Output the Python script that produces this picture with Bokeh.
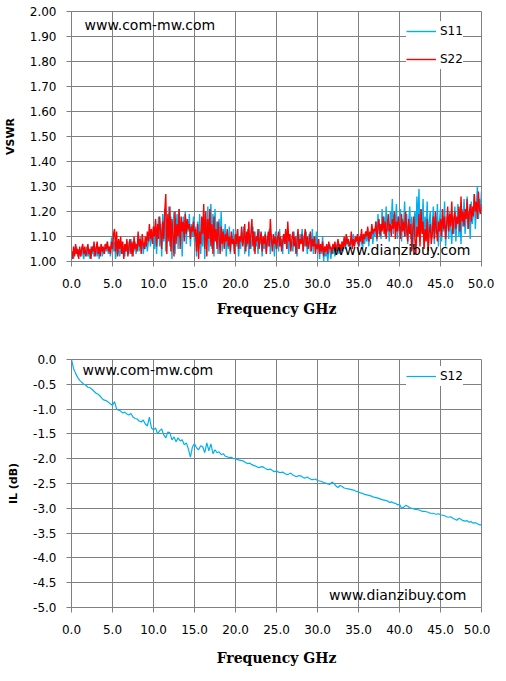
from bokeh.plotting import figure
from bokeh.models import Range1d, SingleIntervalTicker, NumeralTickFormatter, Legend, LegendItem, Label
from bokeh.layouts import column
from bokeh.embed import file_html
from bokeh.resources import INLINE

# ---------------- data ----------------
s11 = [
    1.02, 1.04, 1.01, 1.05, 1.03, 1.06, 1.02, 1.04,
    1.05, 1.02, 1.06, 1.03, 1.01, 1.05, 1.03, 1.06,
    1.02, 1.04, 1.01, 1.06, 1.03, 1.05, 1.02, 1.04,
    1.06, 1.02, 1.05, 1.01, 1.04, 1.07, 1.02, 1.05,
    1.03, 1.07, 1.04, 1.08, 1.03, 1.06, 1.02, 1.09,
    1.10, 1.04, 1.08, 1.01, 1.06, 1.03, 1.07, 1.02,
    1.05, 1.08, 1.03, 1.06, 1.02, 1.07, 1.04, 1.08,
    1.03, 1.06, 1.09, 1.02, 1.07, 1.04, 1.08, 1.03,
    1.06, 1.09, 1.04, 1.10, 1.05, 1.08, 1.03, 1.07,
    1.05, 1.10, 1.04, 1.08, 1.11, 1.06, 1.12, 1.08,
    1.14, 1.05, 1.16, 1.03, 1.12, 1.18, 1.06, 1.15,
    1.02, 1.19, 1.08, 1.21, 1.04, 1.17, 1.10, 1.22,
    1.06, 1.18, 1.01, 1.15, 1.20, 1.03, 1.13, 1.19,
    1.05, 1.21, 1.09, 1.16, 1.02, 1.18, 1.11, 1.20,
    1.07, 1.17, 1.12, 1.19, 1.06, 1.15, 1.10, 1.18,
    1.08, 1.14, 1.02, 1.16, 1.05, 1.19, 1.03, 1.12,
    1.06, 1.20, 1.01, 1.17, 1.09, 1.22, 1.04, 1.18,
    1.23, 1.05, 1.19, 1.02, 1.21, 1.08, 1.16, 1.03,
    1.17, 1.06, 1.20, 1.04, 1.13, 1.08, 1.15, 1.02,
    1.12, 1.05, 1.14, 1.03, 1.10, 1.07, 1.13, 1.04,
    1.11, 1.06, 1.13, 1.02, 1.09, 1.05, 1.12, 1.07,
    1.14, 1.03, 1.10, 1.06, 1.13, 1.02, 1.11, 1.05,
    1.09, 1.14, 1.04, 1.12, 1.06, 1.10, 1.03, 1.13,
    1.07, 1.11, 1.02, 1.09, 1.05, 1.12, 1.04, 1.10,
    1.06, 1.13, 1.03, 1.11, 1.07, 1.09, 1.02, 1.12,
    1.05, 1.10, 1.04, 1.13, 1.06, 1.09, 1.03, 1.11,
    1.07, 1.12, 1.05, 1.09, 1.03, 1.11, 1.06, 1.08,
    1.04, 1.12, 1.07, 1.10, 1.02, 1.09, 1.05, 1.11,
    1.08, 1.13, 1.04, 1.10, 1.06, 1.12, 1.03, 1.09,
    1.11, 1.04, 1.08, 1.13, 1.03, 1.10, 1.06, 1.12,
    1.04, 1.09, 1.01, 1.07, 1.03, 1.10, 1.00, 1.06,
    1.02, 1.05, 1.00, 1.04, 1.07, 1.01, 1.05, 1.03,
    1.06, 1.02, 1.07, 1.04, 1.08, 1.03, 1.06, 1.05,
    1.08, 1.04, 1.09, 1.05, 1.07, 1.10, 1.06, 1.08,
    1.05, 1.09, 1.07, 1.11, 1.06, 1.08, 1.10, 1.07,
    1.09, 1.06, 1.11, 1.08, 1.05, 1.10, 1.07, 1.12,
    1.08, 1.13, 1.06, 1.11, 1.09, 1.14, 1.07, 1.12,
    1.10, 1.16, 1.08, 1.19, 1.11, 1.15, 1.09, 1.21,
    1.13, 1.18, 1.10, 1.22, 1.12, 1.17, 1.08, 1.20,
    1.15, 1.25, 1.11, 1.19, 1.14, 1.23, 1.09, 1.18,
    1.12, 1.21, 1.08, 1.17, 1.14, 1.24, 1.10, 1.19,
    1.07, 1.16, 1.22, 1.09, 1.18, 1.05, 1.15, 1.20,
    1.10, 1.26, 1.14, 1.29, 1.08, 1.21, 1.12, 1.25,
    1.06, 1.18, 1.11, 1.24, 1.05, 1.16, 1.20, 1.09,
    1.14, 1.22, 1.07, 1.18, 1.11, 1.23, 1.06, 1.16,
    1.21, 1.08, 1.17, 1.12, 1.24, 1.06, 1.15, 1.19,
    1.09, 1.20, 1.13, 1.07, 1.18, 1.11, 1.22, 1.08,
    1.16, 1.23, 1.10, 1.19, 1.07, 1.21, 1.14, 1.25,
    1.11, 1.18, 1.26, 1.13, 1.20, 1.09, 1.24, 1.15,
    1.19, 1.27, 1.13, 1.22, 1.30, 1.17, 1.25, 1.20,
    1.28,
]

s22 = [
    1.04, 1.01, 1.06, 1.02, 1.07, 1.03, 1.05, 1.01,
    1.06, 1.02, 1.05, 1.07, 1.03, 1.06, 1.02, 1.04,
    1.07, 1.03, 1.05, 1.01, 1.06, 1.04, 1.08, 1.02,
    1.05, 1.08, 1.03, 1.06, 1.02, 1.07, 1.04, 1.06,
    1.03, 1.07, 1.05, 1.08, 1.04, 1.06, 1.03, 1.08,
    1.05, 1.11, 1.13, 1.04, 1.12, 1.02, 1.09, 1.05,
    1.10, 1.03, 1.08, 1.01, 1.07, 1.04, 1.09, 1.02,
    1.06, 1.09, 1.03, 1.08, 1.02, 1.10, 1.05, 1.07,
    1.04, 1.12, 1.06, 1.09, 1.03, 1.11, 1.07, 1.05,
    1.10, 1.06, 1.12, 1.08, 1.15, 1.09, 1.13, 1.07,
    1.14, 1.10, 1.17, 1.06, 1.15, 1.09, 1.18, 1.12,
    1.05, 1.16, 1.09, 1.20, 1.27, 1.03, 1.19, 1.08,
    1.22, 1.04, 1.17, 1.11, 1.02, 1.20, 1.07, 1.15,
    1.10, 1.21, 1.05, 1.18, 1.12, 1.16, 1.08, 1.19,
    1.11, 1.17, 1.13, 1.15, 1.09, 1.14, 1.12, 1.16,
    1.10, 1.13, 1.04, 1.15, 1.01, 1.12, 1.07, 1.18,
    1.11, 1.23, 1.05, 1.20, 1.02, 1.17, 1.09, 1.21,
    1.06, 1.15, 1.03, 1.18, 1.08, 1.13, 1.05, 1.16,
    1.10, 1.03, 1.14, 1.07, 1.12, 1.05, 1.11, 1.08,
    1.13, 1.06, 1.10, 1.04, 1.12, 1.07, 1.09, 1.03,
    1.11, 1.07, 1.13, 1.05, 1.10, 1.08, 1.14, 1.06,
    1.09, 1.15, 1.04, 1.12, 1.07, 1.16, 1.05, 1.11,
    1.17, 1.06, 1.12, 1.03, 1.10, 1.08, 1.13, 1.05,
    1.09, 1.12, 1.04, 1.10, 1.07, 1.11, 1.03, 1.08,
    1.12, 1.06, 1.17, 1.09, 1.04, 1.11, 1.07, 1.10,
    1.05, 1.09, 1.12, 1.06, 1.10, 1.04, 1.08, 1.11,
    1.07, 1.13, 1.05, 1.16, 1.08, 1.11, 1.04, 1.09,
    1.12, 1.06, 1.10, 1.03, 1.08, 1.13, 1.05, 1.09,
    1.07, 1.11, 1.04, 1.09, 1.13, 1.06, 1.10, 1.05,
    1.08, 1.12, 1.04, 1.09, 1.06, 1.10, 1.03, 1.07,
    1.05, 1.09, 1.03, 1.07, 1.04, 1.08, 1.02, 1.06,
    1.04, 1.07, 1.03, 1.08, 1.05, 1.06, 1.03, 1.07,
    1.05, 1.08, 1.04, 1.06, 1.09, 1.05, 1.07, 1.04,
    1.08, 1.05, 1.10, 1.06, 1.11, 1.07, 1.09, 1.06,
    1.07, 1.12, 1.05, 1.09, 1.06, 1.10, 1.08, 1.11,
    1.06, 1.10, 1.08, 1.13, 1.07, 1.11, 1.09, 1.12,
    1.10, 1.14, 1.08, 1.12, 1.09, 1.15, 1.11, 1.13,
    1.12, 1.16, 1.09, 1.14, 1.17, 1.10, 1.15, 1.12,
    1.18, 1.11, 1.16, 1.09, 1.14, 1.19, 1.12, 1.15,
    1.10, 1.17, 1.13, 1.20, 1.09, 1.16, 1.12, 1.18,
    1.14, 1.09, 1.19, 1.12, 1.16, 1.10, 1.20, 1.13,
    1.08, 1.17, 1.11, 1.15, 1.04, 1.13, 1.18, 1.09,
    1.03, 1.14, 1.10, 1.19, 1.06, 1.21, 1.11, 1.16,
    1.05, 1.13, 1.08, 1.17, 1.04, 1.12, 1.15, 1.07,
    1.11, 1.18, 1.09, 1.20, 1.13, 1.08, 1.16, 1.12,
    1.17, 1.10, 1.21, 1.13, 1.18, 1.09, 1.15, 1.22,
    1.12, 1.19, 1.14, 1.24, 1.11, 1.17, 1.20, 1.13,
    1.18, 1.15, 1.22, 1.12, 1.26, 1.16, 1.20, 1.14,
    1.21, 1.17, 1.25, 1.13, 1.19, 1.23, 1.16, 1.22,
    1.18, 1.27, 1.20, 1.24, 1.17, 1.28, 1.21, 1.19,
    1.23,
]

s12 = [
    0.00, -0.18, -0.28, -0.36, -0.42, -0.46, -0.50, -0.52,
    -0.56, -0.57, -0.60, -0.64, -0.68, -0.70, -0.74, -0.79,
    -0.82, -0.83, -0.86, -0.90, -0.92, -0.85, -1.00, -1.02,
    -1.04, -1.08, -1.06, -1.10, -1.12, -1.09, -1.16, -1.19,
    -1.20, -1.24, -1.26, -1.22, -1.30, -1.34, -1.16, -1.38,
    -1.42, -1.38, -1.50, -1.44, -1.40, -1.52, -1.58, -1.46,
    -1.48, -1.62, -1.56, -1.66, -1.58, -1.64, -1.62, -1.72,
    -1.68, -1.80, -1.97, -1.76, -1.70, -1.78, -1.82, -1.74,
    -1.76, -1.88, -1.68, -1.84, -1.70, -1.90, -1.82, -1.88,
    -1.86, -1.92, -1.90, -1.95, -1.96, -1.98, -1.97, -2.00,
    -2.00, -2.02, -2.03, -2.04, -2.05, -2.08, -2.10, -2.09,
    -2.12, -2.14, -2.15, -2.18, -2.17, -2.16, -2.18, -2.21,
    -2.22, -2.21, -2.24, -2.26, -2.25, -2.27, -2.28, -2.27,
    -2.30, -2.32, -2.31, -2.29, -2.33, -2.35, -2.36, -2.34,
    -2.35, -2.38, -2.39, -2.37, -2.40, -2.42, -2.42, -2.41,
    -2.44, -2.45, -2.46, -2.48, -2.49, -2.51, -2.52, -2.47,
    -2.50, -2.55, -2.58, -2.54, -2.56, -2.59, -2.60, -2.61,
    -2.62, -2.63, -2.64, -2.66, -2.67, -2.69, -2.70, -2.72,
    -2.73, -2.74, -2.75, -2.77, -2.78, -2.79, -2.80, -2.82,
    -2.83, -2.84, -2.85, -2.88, -2.87, -2.89, -2.90, -2.93,
    -2.92, -3.00, -2.98, -2.94, -2.96, -2.99, -3.00, -3.01,
    -3.02, -3.03, -3.04, -3.06, -3.06, -3.07, -3.08, -3.10,
    -3.10, -3.11, -3.12, -3.11, -3.13, -3.14, -3.15, -3.17,
    -3.18, -3.17, -3.20, -3.22, -3.24, -3.20, -3.22, -3.25,
    -3.26, -3.25, -3.28, -3.27, -3.30, -3.29, -3.31, -3.33,
    -3.34,
]

freq_s11 = [i * 0.125 for i in range(len(s11))]
freq_s22 = [i * 0.125 for i in range(len(s22))]
freq_s12 = [i * 0.25 for i in range(len(s12))]

BLUE = "#00B0F0"
RED = "#FF0000"
GRID = "#808080"
SANS = "DejaVu Sans"


def style(p, ylabel, yfmt, xlabel_standoff):
    p.background_fill_color = "white"
    p.border_fill_color = "white"
    p.outline_line_color = GRID
    p.outline_line_width = 1
    for g in (p.xgrid, p.ygrid):
        g.grid_line_color = GRID
        g.grid_line_width = 1
    p.xaxis.ticker = SingleIntervalTicker(interval=5)
    p.xaxis.formatter = NumeralTickFormatter(format="0.0")
    p.yaxis.formatter = NumeralTickFormatter(format=yfmt)
    for ax in (p.xaxis, p.yaxis):
        ax.axis_line_color = GRID
        ax.major_tick_line_color = GRID
        ax.major_tick_out = 5
        ax.major_tick_in = 0
        ax.minor_tick_line_color = None
        ax.major_label_text_font = SANS
        ax.major_label_text_font_size = "12px"
        ax.major_label_text_color = "black"
        ax.axis_label_text_color = "black"
        ax.axis_label_text_font_style = "bold"
    p.xaxis.axis_label = "Frequency GHz"
    p.xaxis.axis_label_text_font = "DejaVu Serif"
    p.xaxis.axis_label_text_font_size = "14px"
    p.xaxis.major_label_standoff = 12
    p.xaxis.axis_label_standoff = xlabel_standoff
    p.yaxis.axis_label = ylabel
    p.yaxis.axis_label_text_font = SANS
    p.yaxis.axis_label_text_font_size = "11px"
    p.yaxis.major_label_standoff = 10
    p.yaxis.axis_label_standoff = 10


def add_label(p, x, y, text):
    p.add_layout(Label(x=x, y=y, text=text, text_font=SANS, text_font_size="14px",
                       text_color="black", text_baseline="middle", text_align="left"))


# ---------------- VSWR chart ----------------
p1 = figure(output_backend="svg", toolbar_location=None,
            frame_width=410, frame_height=250,
            min_border_left=67, min_border_right=13,
            min_border_top=11, min_border_bottom=79,
            x_range=Range1d(0, 50), y_range=Range1d(1.0, 2.0))
style(p1, "VSWR", "0.00", 10)
p1.yaxis.ticker = SingleIntervalTicker(interval=0.1)

r11 = p1.line(freq_s11, s11, line_color=BLUE, line_width=1.4)
r22 = p1.line(freq_s22, s22, line_color=RED, line_width=1.4)

leg1 = Legend(items=[LegendItem(label="S11", renderers=[r11]),
                     LegendItem(label="S22", renderers=[r22])],
              location=(335, 192), padding=6, spacing=8,
              glyph_width=30, glyph_height=20, label_height=20, label_standoff=4,
              label_text_font=SANS, label_text_font_size="12px", label_text_color="black",
              border_line_color=None, background_fill_color="white", background_fill_alpha=1.0)
p1.add_layout(leg1)
add_label(p1, 1.6, 1.945, "www.com-mw.com")
add_label(p1, 31.9, 1.045, "www.dianzibuy.com")

# ---------------- IL chart ----------------
p2 = figure(output_backend="svg", toolbar_location=None,
            frame_width=410, frame_height=248,
            min_border_left=67, min_border_right=13,
            min_border_top=19, min_border_bottom=66,
            x_range=Range1d(0, 50), y_range=Range1d(-5.0, 0.0))
style(p2, "IL (dB)", "0.0", 13)
p2.yaxis.ticker = SingleIntervalTicker(interval=0.5)

r12 = p2.line(freq_s12, s12, line_color=BLUE, line_width=1.2)
leg2 = Legend(items=[LegendItem(label="S12", renderers=[r12])],
              location=(335, 221), padding=6, spacing=8,
              glyph_width=30, glyph_height=20, label_height=20, label_standoff=4,
              label_text_font=SANS, label_text_font_size="12px", label_text_color="black",
              border_line_color=None, background_fill_color="white", background_fill_alpha=1.0)
p2.add_layout(leg2)
add_label(p2, 1.35, -0.22, "www.com-mw.com")
add_label(p2, 31.4, -4.74, "www.dianzibuy.com")

layout = column(p1, p2, spacing=0)
open("out.html", "w").write(file_html(layout, INLINE))
